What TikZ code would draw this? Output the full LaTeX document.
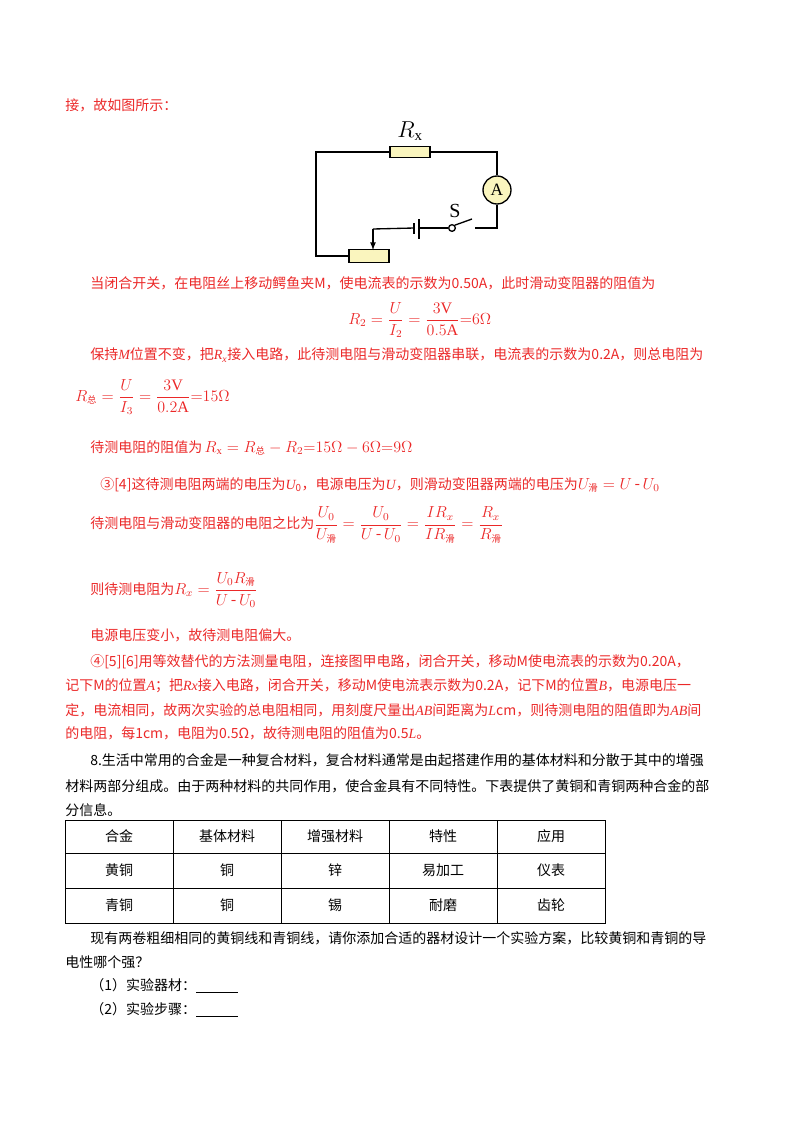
\documentclass[tikz,border=0pt]{standalone}
\usepackage{amsmath}
\usepackage{fontspec}
\setmainfont{Liberation Serif}
\newfontfamily\cjk{Noto Sans CJK SC}
\newcommand{\iv}[1]{{\rmfamily\itshape #1}}
\definecolor{rd}{RGB}{235,40,40}
\definecolor{box}{RGB}{250,245,190}
\newcommand{\zh}[1]{\mbox{\cjk\scriptsize #1}}
\begin{document}
\begin{tikzpicture}[x=0.75pt,y=-0.75pt,
  tx/.style={anchor=west,inner sep=0,font=\cjk\fontsize{10.5}{12}\selectfont},
  rt/.style={tx,text=rd},
  fm/.style={anchor=west,inner sep=0,text=rd,font=\fontsize{12}{14}\selectfont},
  wire/.style={line width=1pt},
  cell/.style={font=\cjk\fontsize{10.5}{12}\selectfont}]
\useasboundingbox (0,0) rectangle (800,1132);
% text
\node[rt] (t1) at (65,105) {接，故如图所示：};
% circuit
\coordinate (tl) at (316,152); \coordinate (tr) at (497,152);
\coordinate (br) at (497,228); \coordinate (bl) at (316,256);
\node[draw,wire,fill=box,minimum width=30pt,minimum height=8pt,inner sep=0] (rx) at (410,152) {};
\node[font=\fontsize{16}{18}\selectfont] (rxl) at (410,131) {$R_{\mathrm{x}}$};
\node[draw,wire,circle,fill=box,minimum size=21pt,inner sep=0,font=\fontsize{13}{15}\selectfont] (am) at (497,190) {A};
\node[draw,wire,fill=box,minimum width=30pt,minimum height=10pt,inner sep=0] (rh) at (369,256) {};
\node[draw,wire,circle,fill=white,minimum size=5pt,inner sep=0] (sw) at (452,228) {};
\node[font=\fontsize{15}{17}\selectfont] (sl) at (455,211) {S};
\coordinate (swe) at (472,219);
\coordinate (p1) at (419,219); \coordinate (p1b) at (419,239);
\coordinate (p2) at (414,223); \coordinate (p2b) at (414,234);
\coordinate (ap) at (373,229); \coordinate (at) at (373,250);
\draw[wire] (rx.east) -- (tr) -- (am.north);
\draw[wire] (am.south) -- (br) -- (475,228);
\draw[wire] (sw.north east) -- (swe);
\draw[wire] (sw.west) -- (419,228);
\draw[wire] (p1) -- (p1b); \draw[wire] (p2) -- (p2b);
\draw[wire] (414,228) -- (ap);
\draw[wire,-latex] (ap) -- (at);
\draw[wire] (rx.west) -- (tl) -- (bl) -- (rh.west);
% lines
\node[rt] (t2) at (90,283) {当闭合开关，在电阻丝上移动鳄鱼夹M，使电流表的示数为0.50A，此时滑动变阻器的阻值为};
\node[fm] (f1) at (348,320) {$R_2=\dfrac{U}{I_2}=\dfrac{3\mathrm{V}}{0.5\mathrm{A}}{=}6\Omega$};
\node[rt] (t3) at (90,355) {保持\iv{M}位置不变，把\iv{R}\textsubscript{\iv{x}}接入电路，此待测电阻与滑动变阻器串联，电流表的示数为0.2A，则总电阻为};
\node[fm] (f2) at (75,397) {$R_{\zh{总}}=\dfrac{U}{I_3}=\dfrac{3\mathrm{V}}{0.2\mathrm{A}}{=}15\Omega$};
\node[rt] (t4) at (90,448) {待测电阻的阻值为\,{\fontsize{12}{14}\selectfont$R_{\mathrm{x}}=R_{\zh{总}}-R_2{=}15\Omega-6\Omega{=}9\Omega$}};
\node[rt] (t5) at (100,485) {③[4]这待测电阻两端的电压为\iv{U}\textsubscript{0}，电源电压为\iv{U}，则滑动变阻器两端的电压为{\fontsize{12}{14}\selectfont$U_{\zh{滑}}=U\,\text{-}\,U_0$}};
\node[rt] (t6) at (90,525) {待测电阻与滑动变阻器的电阻之比为{\fontsize{12}{14}\selectfont$\dfrac{U_0}{U_{\zh{滑}}}=\dfrac{U_0}{U\,\text{-}\,U_0}=\dfrac{IR_x}{IR_{\zh{滑}}}=\dfrac{R_x}{R_{\zh{滑}}}$}};
\node[rt] (t7) at (90,590) {则待测电阻为{\fontsize{12}{14}\selectfont$R_x=\dfrac{U_0R_{\zh{滑}}}{U\,\text{-}\,U_0}$}};
\node[rt] (t8) at (90,635) {电源电压变小，故待测电阻偏大。};
\node[rt] (t9) at (90,662) {④[5][6]用等效替代的方法测量电阻，连接图甲电路，闭合开关，移动M使电流表的示数为0.20A，};
\node[rt] (t10) at (65,686) {记下M的位置\iv{A}；把\iv{Rx}接入电路，闭合开关，移动M使电流表示数为0.2A，记下M的位置\iv{B}，电源电压一};
\node[rt] (t11) at (65,710) {定，电流相同，故两次实验的总电阻相同，用刻度尺量出\iv{AB}间距离为\iv{L}cm，则待测电阻的阻值即为\iv{AB}间};
\node[rt] (t12) at (65,733) {的电阻，每1cm，电阻为0.5Ω，故待测电阻的阻值为0.5\iv{L}。};
\node[tx] (t13) at (90,760) {8.生活中常用的合金是一种复合材料，复合材料通常是由起搭建作用的基体材料和分散于其中的增强};
\node[tx] (t14) at (65,786) {材料两部分组成。由于两种材料的共同作用，使合金具有不同特性。下表提供了黄铜和青铜两种合金的部};
\node[tx] (t15) at (65,810) {分信息。};
% table
\draw[line width=0.7pt] (65,820) rectangle (605,923);
\foreach \y in {853,888} \draw[line width=0.7pt] (65,\y) -- (605,\y);
\foreach \x in {173,281,389,497} \draw[line width=0.7pt] (\x,820) -- (\x,923);
\node[cell] (c11) at (119,836) {合金}; \node[cell] (c12) at (227,836) {基体材料};
\node[cell] (c13) at (335,836) {增强材料}; \node[cell] (c14) at (443,836) {特性};
\node[cell] (c15) at (551,836) {应用};
\node[cell] (c21) at (119,870) {黄铜}; \node[cell] (c22) at (227,870) {铜};
\node[cell] (c23) at (335,870) {锌}; \node[cell] (c24) at (443,870) {易加工};
\node[cell] (c25) at (551,870) {仪表};
\node[cell] (c31) at (119,905) {青铜}; \node[cell] (c32) at (227,905) {铜};
\node[cell] (c33) at (335,905) {锡}; \node[cell] (c34) at (443,905) {耐磨};
\node[cell] (c35) at (551,905) {齿轮};
\node[tx] (t16) at (90,938) {现有两卷粗细相同的黄铜线和青铜线，请你添加合适的器材设计一个实验方案，比较黄铜和青铜的导};
\node[tx] (t17) at (65,962) {电性哪个强？};
\node[tx] (t18) at (90,986) {（1）实验器材：\underline{\hspace{3em}}};
\node[tx] (t19) at (90,1010) {（2）实验步骤：\underline{\hspace{3em}}};
\end{tikzpicture}
\end{document}
